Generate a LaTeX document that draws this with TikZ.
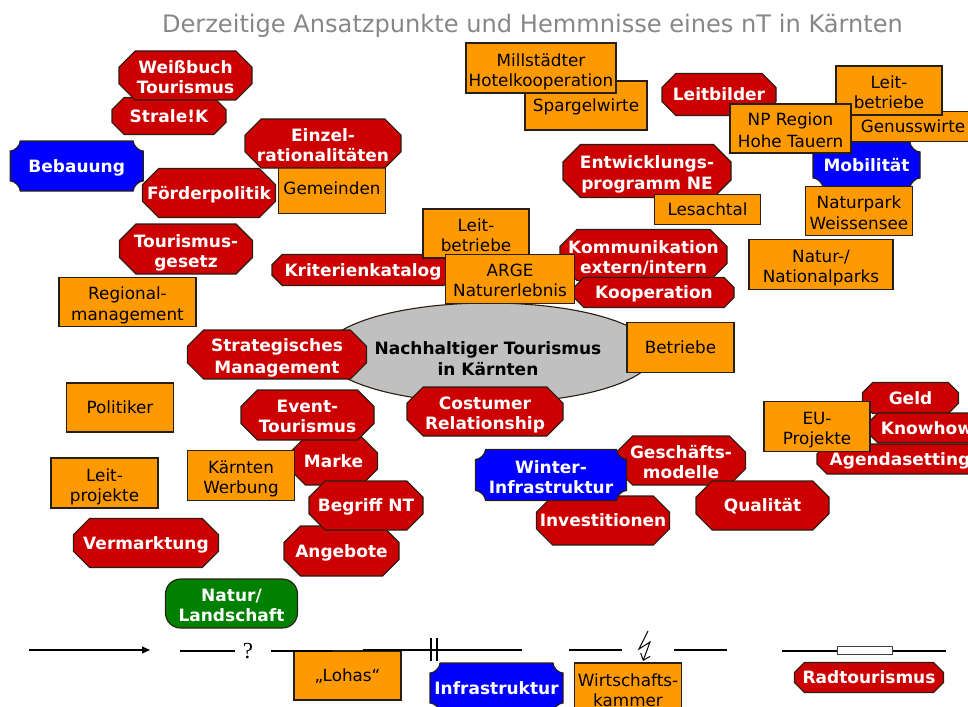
\documentclass[tikz,border=0pt]{standalone}
\usepackage{fontspec}
\usetikzlibrary{arrows.meta,shapes.geometric}
\newfontfamily\dvsans{DejaVu Sans}
\newfontfamily\qserif{Liberation Serif}
\definecolor{boxred}{RGB}{204,0,0}
\definecolor{boxorange}{RGB}{255,153,0}
\definecolor{boxblue}{RGB}{0,0,255}
\definecolor{boxgreen}{RGB}{0,128,0}
\definecolor{coregray}{RGB}{192,192,192}
\definecolor{edge}{RGB}{40,30,20}
\definecolor{titlegray}{RGB}{135,135,135}
% every text line gets the same height/depth so capitals sit centred
\newcommand\nstrut{\rule[-4.6pt]{0pt}{21.6pt}}
\newcommand\boldlab{\dvsans\bfseries\fontsize{17}{20}\selectfont}
\newcommand\reglab{\dvsans\fontsize{16.8}{20}\selectfont}
\tikzset{
  every node/.style={inner sep=0pt},
  lab/.style={align=center, execute at begin node=\nstrut},
  twoline/.style={yshift=-4pt},
  redlab/.style={lab, font=\boldlab, text=white},
  orangebox/.style={lab, rectangle, font=\reglab, text=black, fill=boxorange, draw=edge, line width=1.1pt},
  orangetext/.style={lab, font=\reglab, text=black},
  redshape/.style={fill=boxred, draw=edge, line width=1.1pt, line join=miter},
  blueshape/.style={fill=boxblue, draw=edge, line width=1.1pt},
  greenshape/.style={fill=boxgreen, draw=edge, line width=1.1pt, rounded corners=15pt},
  coreshape/.style={ellipse, fill=coregray, draw=edge, line width=1.1pt},
  corelab/.style={lab, font=\boldlab, text=black},
  symline/.style={line width=2pt, black},
  thinline/.style={line width=1.1pt, black},
}
% red octagon: [text options], name, x, y, width, height, text
\newcommand\octnode[7][]{%
  \pgfmathsetmacro\octc{0.33*min(#5,#6)}%
  \pgfmathsetmacro\octL{#3-#5/2}\pgfmathsetmacro\octR{#3+#5/2}%
  \pgfmathsetmacro\octT{#4-#6/2}\pgfmathsetmacro\octB{#4+#6/2}%
  \path[redshape] ({\octL+\octc},{\octT}) -- ({\octR-\octc},{\octT}) -- ({\octR},{\octT+\octc})
    -- ({\octR},{\octB-\octc}) -- ({\octR-\octc},{\octB}) -- ({\octL+\octc},{\octB})
    -- ({\octL},{\octB-\octc}) -- ({\octL},{\octT+\octc}) -- cycle;
  \node[redlab, #1] (#2) at (#3,#4) {#7\nstrut};}
% blue plaque with concave corners: [text options], name, x, y, width, height, text
\newcommand\plaquenode[7][]{%
  \pgfmathsetmacro\plL{#3-#5/2}\pgfmathsetmacro\plR{#3+#5/2}%
  \pgfmathsetmacro\plT{#4-#6/2}\pgfmathsetmacro\plB{#4+#6/2}%
  \def\plr{10}\def\plk{4.5}%
  \path[blueshape] ({\plL+\plr},{\plT}) -- ({\plR-\plr},{\plT})
    .. controls ({\plR-\plr},{\plT+\plk}) and ({\plR-\plk},{\plT+\plr}) .. ({\plR},{\plT+\plr})
    -- ({\plR},{\plB-\plr})
    .. controls ({\plR-\plk},{\plB-\plr}) and ({\plR-\plr},{\plB-\plk}) .. ({\plR-\plr},{\plB})
    -- ({\plL+\plr},{\plB})
    .. controls ({\plL+\plr},{\plB-\plk}) and ({\plL+\plk},{\plB-\plr}) .. ({\plL},{\plB-\plr})
    -- ({\plL},{\plT+\plr})
    .. controls ({\plL+\plk},{\plT+\plr}) and ({\plL+\plr},{\plT+\plk}) .. ({\plL+\plr},{\plT}) -- cycle;
  \node[redlab, #1] (#2) at (#3,#4) {#7\nstrut};}
% orange box: [text options], name, x, y, width, height, text
\newcommand\orangenode[7][]{%
  \path[orangebox] ({#3-#5/2},{#4-#6/2}) rectangle ({#3+#5/2},{#4+#6/2});
  \node[orangetext, #1] (#2) at (#3,#4) {#7\nstrut};}

\begin{document}
\begin{tikzpicture}[x=1pt, y=-1pt]
\useasboundingbox (0,0) rectangle (968,706);
\clip (0,0) rectangle (968,706);

\node[font={\dvsans\fontsize{24.1}{28}\selectfont}, text=titlegray, anchor=base] (title) at (532.5,32.5)
  {Derzeitige Ansatzpunkte und Hemmnisse eines nT in Kärnten};

% core ellipse
\node[coreshape, minimum width=330, minimum height=100] (core) at (489,353) {};
\node[corelab, twoline] (coretext) at (488,357) {Nachhaltiger Tourismus\\in Kärnten\nstrut};

% upper left group
\octnode{strale}{169}{116}{114}{37}{Strale!K}
\octnode[twoline]{weiss}{185.5}{75.5}{133}{49}{Weißbuch\\Tourismus}
\octnode{foerder}{209}{193}{133}{49}{Förderpolitik}
\orangenode{gemeinden}{332}{188.5}{107}{50}{Gemeinden}
\octnode[twoline]{einzel}{323}{143.5}{156}{49}{Einzel-\\rationalitäten}
\plaquenode{bebauung}{76.7}{166}{133}{50}{Bebauung}
\octnode[twoline]{tgesetz}{186}{249}{133}{50}{Tourismus-\\gesetz}
\orangenode[twoline]{regional}{127.5}{302}{137}{49}{Regional-\\management}
\orangenode{politiker}{120}{407.5}{107}{49}{Politiker}
\orangenode[twoline]{leitprojekte}{104.5}{483}{107}{50}{Leit-\\projekte}
\octnode{vermarktung}{146}{543}{145}{49}{Vermarktung}
\path[greenshape] (165.5,579) rectangle (297.5,628);
\node[redlab, twoline] (natur) at (231.5,603.5) {Natur/\\Landschaft\nstrut};

% centre group
\octnode{kriterien}{363}{270}{182}{31}{Kriterienkatalog}
\orangenode[twoline]{leitbetriebeA}{476}{233.5}{106}{49}{Leit-\\betriebe}
\octnode[twoline]{kommunikation}{643.5}{255}{167}{51}{Kommunikation\\extern/intern}
\octnode{kooperation}{654}{292.5}{160}{30}{Kooperation}
\orangenode[twoline]{arge}{510}{279}{129}{49}{ARGE\\Naturerlebnis}
\octnode[twoline]{strategie}{277}{354.5}{179}{49}{Strategisches\\Management}
\orangenode{betriebe}{680.5}{347.5}{107}{50}{Betriebe}
\octnode[twoline]{costumer}{485}{411.5}{156}{49}{Costumer\\Relationship}
\octnode{marke}{333.5}{461}{88}{48}{Marke}
\octnode[twoline]{event}{307.5}{415}{133}{50}{Event-\\Tourismus}
\orangenode[twoline]{kwerbung}{241}{475.5}{107}{50}{Kärnten\\Werbung}
\octnode{angebote}{341.5}{551}{115}{50}{Angebote}
\octnode{begriff}{366}{505.5}{114}{49}{Begriff NT}

% upper right group
\orangenode{spargel}{586}{105.5}{122}{49}{Spargelwirte}
\orangenode[twoline]{millst}{541}{68}{150}{50}{Millstädter\\Hotelkooperation}
\octnode{leitbilder}{719}{94.5}{114}{42}{Leitbilder}
\plaquenode{mobil}{866.5}{165}{107}{46}{Mobilität}
\orangenode{genuss}{913}{126.5}{124}{30}{Genusswirte}
\orangenode[twoline]{leitbetriebeB}{889}{90.5}{106}{49}{Leit-\\betriebe}
\orangenode[twoline]{npregion}{790.5}{128.5}{121}{49}{NP Region\\Hohe Tauern}
\octnode[twoline]{entwicklung}{647}{171}{168}{53}{Entwicklungs-\\programm NE}
\orangenode{lesach}{707.5}{209.5}{106}{30}{Lesachtal}
\orangenode[twoline]{weissensee}{859}{211}{107}{49}{Naturpark\\Weissensee}
\orangenode[twoline]{nationalparks}{821}{264.5}{144}{50}{Natur-/\\Nationalparks}

% right group
\octnode{geld}{910.5}{398}{96}{31}{Geld}
\octnode{knowhow}{927}{428}{118}{30}{Knowhow}
\octnode{agenda}{900}{459}{166}{30}{Agendasetting}
\orangenode[twoline]{eu}{817}{426.5}{106}{50}{EU-\\Projekte}
\octnode[twoline]{geschaeft}{681}{460.5}{129}{49}{Geschäfts-\\modelle}
\octnode{invest}{603}{520.5}{133}{49}{Investitionen}
\plaquenode[twoline]{winter}{551}{475}{151}{51}{Winter-\\Infrastruktur}
\octnode{qualitaet}{762.5}{505.5}{133}{49}{Qualität}

% bottom row
\orangenode{lohas}{347.5}{675.5}{107}{49}{„Lohas“}
\plaquenode{infra}{496.5}{688}{133}{50}{Infrastruktur}
\orangenode[twoline]{wkammer}{628}{688}{107}{50}{Wirtschafts-\\kammer}
\octnode{rad}{869}{677.5}{149}{30}{Radtourismus}

% legend symbols
\coordinate (arrA) at (29,650);
\coordinate (arrB) at (150,650);
\draw[thinline, -{Triangle[length=8pt,width=7pt]}] (arrA) -- (arrB);

\coordinate (qA) at (180,651);
\coordinate (qB) at (235,651);
\node[font={\qserif\fontsize{23}{26}\selectfont}] (quest) at (248,651) {?};
\coordinate (qC) at (271,651);
\coordinate (qD) at (332,651);
\draw[symline] (qA) -- (qB);
\draw[symline] (qC) -- (qD);

\coordinate (bA) at (363,650);
\coordinate (bB) at (522,650);
\draw[symline] (bA) -- (bB);
\coordinate (bar1t) at (431,638);
\coordinate (bar1b) at (431,661);
\coordinate (bar2t) at (437,638);
\coordinate (bar2b) at (437,661);
\draw[symline] (bar1t) -- (bar1b);
\draw[symline] (bar2t) -- (bar2b);

\coordinate (lA) at (569,650);
\coordinate (lB) at (622,650);
\coordinate (lC) at (674,650);
\coordinate (lD) at (727,650);
\draw[symline] (lA) -- (lB);
\draw[symline] (lC) -- (lD);
\coordinate (z1) at (648,631);
\coordinate (z2) at (639,649);
\coordinate (z3) at (650,642);
\coordinate (z4) at (643,661);
\draw[line width=1pt, -{Straight Barb[length=6pt,width=10pt]}] (z1) -- (z2) -- (z3) -- (z4);

\coordinate (rA) at (782,650.5);
\coordinate (rB) at (946,650.5);
\draw[symline] (rA) -- (rB);
\node[rectangle, fill=white, draw=black!75, line width=1pt, minimum width=55, minimum height=8] (resist) at (864.5,650.5) {};
\end{tikzpicture}
\end{document}
